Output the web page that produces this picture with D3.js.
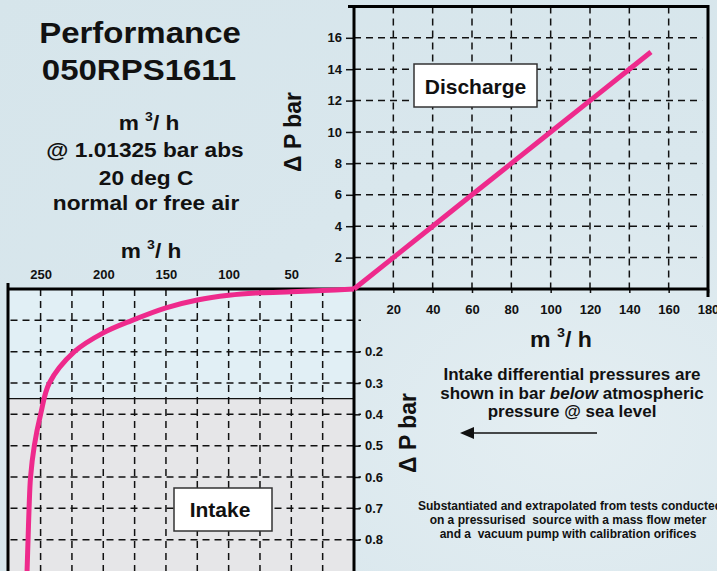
<!DOCTYPE html>
<html lang="en">
<head>
<meta charset="UTF-8">
<title>Performance 050RPS1611</title>
<style>
  html, body { margin: 0; padding: 0; }
  body {
    width: 717px; height: 571px; overflow: hidden;
    background: radial-gradient(ellipse at 80% 75%, #e4eef2 0%, #d9e7ed 45%, #d6e5eb 100%);
    font-family: "Liberation Sans", Arial, sans-serif;
  }
  svg { display: block; }
  text { font-weight: bold; fill: #111; }
  .grid { stroke: #111; stroke-width: 1.5; stroke-dasharray: 7 5; fill: none; }
  .frame { stroke: #000; stroke-width: 3; fill: none; }
  .tick line { stroke: #111; stroke-width: 1.5; }
</style>
</head>
<body>
<svg id="chart" width="717" height="571"></svg>
<script src="https://d3js.org/d3.v7.min.js"></script>
<script>
// discharge side (m3/h vs bar above atmosphere)
var dischargeFlow = [0, 20, 40, 60, 80, 100, 120, 140, 151];
var dischargeDp = [0, 2, 4, 6, 8, 10, 12, 14, 15.1];
var dischargeXTicks = [20, 40, 60, 80, 100, 120, 140, 160, 180];
var dischargeYTicks = [2, 4, 6, 8, 10, 12, 14, 16];

// intake side (m3/h vs bar below atmosphere)
var intakeFlow = [0, 25, 50, 75, 100, 125, 150, 177, 200, 223, 243, 250, 255, 258, 259.2, 260, 260.8];
var intakeDp = [0, 0.005, 0.009, 0.012, 0.02, 0.035, 0.06, 0.1, 0.14, 0.2, 0.3, 0.4, 0.5, 0.6, 0.7, 0.8, 0.9];
var intakeXTicks = [50, 100, 150, 200, 250];
var intakeXGrid = [25, 50, 75, 100, 125, 150, 175, 200, 225, 250];
var intakeYGrid = [0.1, 0.2, 0.3, 0.4, 0.5, 0.6, 0.7, 0.8];
var intakeYTicks = [0.2, 0.3, 0.4, 0.5, 0.6, 0.7, 0.8];
var shadedFrom = 0.35;

var svg = d3.select('#chart');

var dx = d3.scaleLinear().domain([0, 180]).range([354, 708]);
var dy = d3.scaleLinear().domain([0, 18]).range([289, 6.4]);
var ix = d3.scaleLinear().domain([0, 276]).range([354, 8]);
var iy = d3.scaleLinear().domain([0, 0.9]).range([289, 571]);

// intake panel backgrounds
svg.append('rect')
    .attr('x', ix(276)).attr('y', iy(0))
    .attr('width', ix(0) - ix(276)).attr('height', iy(shadedFrom) - iy(0))
    .attr('fill', '#e1eff5');
svg.append('rect')
    .attr('x', ix(276)).attr('y', iy(shadedFrom))
    .attr('width', ix(0) - ix(276)).attr('height', iy(0.9) - iy(shadedFrom))
    .attr('fill', '#e6e6e8');
svg.append('line')
    .attr('x1', ix(276)).attr('x2', ix(0))
    .attr('y1', iy(shadedFrom)).attr('y2', iy(shadedFrom))
    .attr('stroke', '#111').attr('stroke-width', 1.2);

// grids
svg.selectAll('.dgx').data(dischargeXTicks.slice(0, -1)).enter().append('line')
    .attr('class', 'grid')
    .attr('x1', function(d) { return dx(d); }).attr('x2', function(d) { return dx(d); })
    .attr('y1', dy(18)).attr('y2', dy(0) + 4);
svg.selectAll('.dgy').data(dischargeYTicks).enter().append('line')
    .attr('class', 'grid')
    .attr('x1', dx(0)).attr('x2', dx(177))
    .attr('y1', function(d) { return dy(d); }).attr('y2', function(d) { return dy(d); });
svg.selectAll('.igx').data(intakeXGrid).enter().append('line')
    .attr('class', 'grid')
    .attr('x1', function(d) { return ix(d); }).attr('x2', function(d) { return ix(d); })
    .attr('y1', iy(0)).attr('y2', iy(0.9));
svg.selectAll('.igy').data(intakeYGrid).enter().append('line')
    .attr('class', 'grid')
    .attr('x1', ix(274)).attr('x2', ix(0) + 7)
    .attr('y1', function(d) { return iy(d); }).attr('y2', function(d) { return iy(d); });

// axes
var axisDY = svg.append('g').attr('transform', 'translate(' + dx(0) + ',0)')
    .call(d3.axisLeft(dy).tickValues(dischargeYTicks).tickSize(8).tickPadding(4));
var axisDX = svg.append('g').attr('transform', 'translate(0,' + dy(0) + ')')
    .call(d3.axisBottom(dx).tickValues(dischargeXTicks).tickSize(4).tickPadding(12));
var axisIX = svg.append('g').attr('transform', 'translate(0,' + iy(0) + ')')
    .call(d3.axisTop(ix).tickValues(intakeXTicks).tickSize(0).tickPadding(10));
var axisIY = svg.append('g').attr('transform', 'translate(' + ix(0) + ',0)')
    .call(d3.axisRight(iy).tickValues(intakeYTicks).tickSize(6).tickPadding(5));
[axisDY, axisDX, axisIX, axisIY].forEach(function(a) {
    a.select('.domain').remove();
    a.selectAll('text').attr('font-family', '"Liberation Sans", Arial, sans-serif')
        .attr('font-size', 13).attr('font-weight', 'bold').attr('fill', '#111');
});

// frame lines
svg.append('path').attr('class', 'frame')
    .attr('d', 'M' + (dx(0) - 6) + ',' + dy(18) + 'H' + dx(180) + 'V' + (dy(0) + 8));
svg.append('line').attr('class', 'frame')
    .attr('x1', dx(0)).attr('x2', dx(0)).attr('y1', dy(18) - 1).attr('y2', iy(0.9));
svg.append('line').attr('class', 'frame')
    .attr('x1', ix(276)).attr('x2', dx(180)).attr('y1', dy(0)).attr('y2', dy(0));
svg.append('line').attr('class', 'frame')
    .attr('x1', ix(276)).attr('x2', ix(276)).attr('y1', iy(0) - 6).attr('y2', iy(0.9));

// curves
var pink = '#ee2a8c';
svg.append('path')
    .datum(dischargeFlow.map(function(f, i) { return [f, dischargeDp[i]]; }))
    .attr('d', d3.line().x(function(d) { return dx(d[0]); }).y(function(d) { return dy(d[1]); }))
    .attr('fill', 'none').attr('stroke', pink).attr('stroke-width', 5);
svg.append('path')
    .datum(intakeFlow.map(function(f, i) { return [f, intakeDp[i]]; }))
    .attr('d', d3.line().curve(d3.curveCatmullRom)
        .x(function(d) { return ix(d[0]); }).y(function(d) { return iy(d[1]); }))
    .attr('fill', 'none').attr('stroke', pink).attr('stroke-width', 5);

// labelled boxes
function boxLabel(x, y, w, h, label, tx, ty) {
    svg.append('rect').attr('x', x).attr('y', y).attr('width', w).attr('height', h)
        .attr('fill', '#fff').attr('stroke', '#333').attr('stroke-width', 1.5);
    svg.append('text').attr('x', tx).attr('y', ty).attr('text-anchor', 'middle')
        .attr('font-size', 21).text(label);
}
boxLabel(414, 64, 123, 43, 'Discharge', 475.5, 94);
boxLabel(174, 488, 98, 43, 'Intake', 220, 517);

// text helper with horizontal stretch
function label(x, y, size, str, sx) {
    var t = svg.append('text')
        .attr('transform', 'translate(' + x + ',' + y + ') scale(' + (sx || 1) + ',1)')
        .attr('text-anchor', 'middle').attr('font-size', size);
    t.text(str);
    return t;
}
function unitLabel(x, y, size, sx) {
    var t = svg.append('text')
        .attr('transform', 'translate(' + x + ',' + y + ') scale(' + (sx || 1) + ',1)')
        .attr('text-anchor', 'middle').attr('font-size', size);
    t.append('tspan').text('m ');
    t.append('tspan').attr('font-size', size * 0.62).attr('dy', -size * 0.45).text('3');
    t.append('tspan').attr('dy', size * 0.45).text('/ h');
}

label(140, 43, 30, 'Performance', 1.1);
label(139, 80, 30, '050RPS1611', 1.1);
unitLabel(149, 130, 21, 1.08);
label(145, 157, 21, '@ 1.01325 bar abs', 1.08);
label(146, 185, 21, '20 deg C', 1.08);
label(146, 210, 21, 'normal or free air', 1.08);
unitLabel(151, 258, 21, 1.08);
unitLabel(561, 347, 22, 1.05);

// rotated axis titles
svg.append('text').attr('transform', 'translate(301,132) rotate(-90)')
    .attr('text-anchor', 'middle').attr('font-size', 23).text('\u0394 P bar');
svg.append('text').attr('transform', 'translate(416,433) rotate(-90)')
    .attr('text-anchor', 'middle').attr('font-size', 23).text('\u0394 P bar');

// notes
label(572, 380, 17, 'Intake differential pressures are');
var mid = label(572, 399, 17, '');
mid.append('tspan').text('shown in bar ');
mid.append('tspan').attr('font-style', 'italic').text('below');
mid.append('tspan').text(' atmospheric');
label(572, 417, 17, 'pressure @ sea level');

svg.append('line').attr('x1', 597).attr('x2', 470).attr('y1', 433).attr('y2', 433)
    .attr('stroke', '#111').attr('stroke-width', 1.5);
svg.append('path').attr('d', 'M460,433L474,427L474,439Z').attr('fill', '#111');

label(570, 510, 12, 'Substantiated and extrapolated from tests conducted');
label(568, 524, 12, 'on a pressurised  source with a mass flow meter').style('white-space', 'pre');
label(568, 538, 12, 'and a  vacuum pump with calibration orifices').style('white-space', 'pre');
</script>
</body>
</html>
